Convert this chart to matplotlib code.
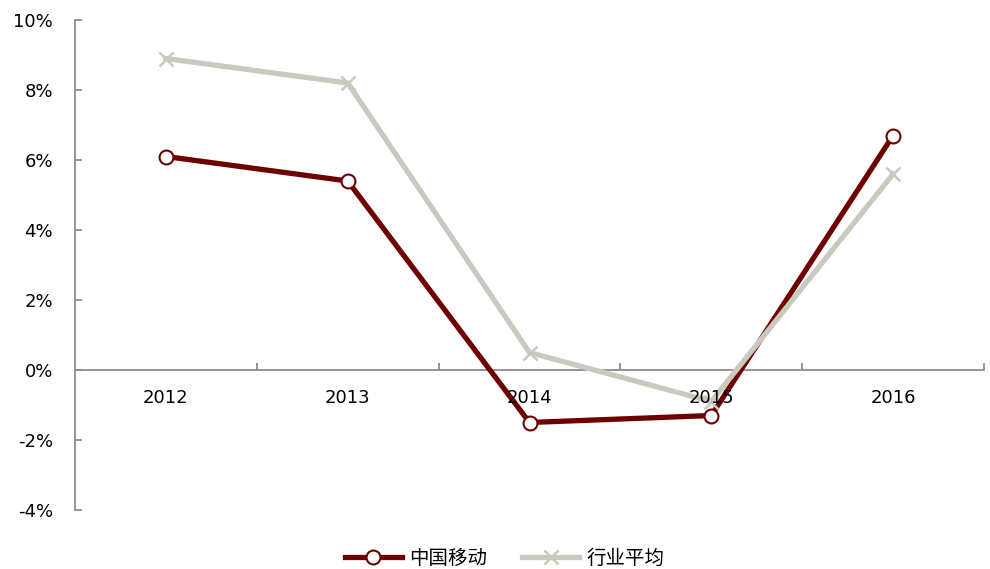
import matplotlib
matplotlib.use("Agg")
import matplotlib.pyplot as plt
from matplotlib.ticker import FuncFormatter, FixedLocator
import matplotlib.transforms as mtransforms

years = ["2012", "2013", "2014", "2015", "2016"]
cmcc = [6.1, 5.4, -1.5, -1.3, 6.7]
industry = [8.9, 8.2, 0.5, -0.9, 5.6]
names = ["中国移动", "行业平均"]

plt.rcParams['font.family'] = ['DejaVu Sans', 'Noto Sans CJK SC']

fig = plt.figure(figsize=(9.9, 5.69), dpi=100)
ax = fig.add_axes([75/990, 1-510/569, (984-75)/990, (510-20)/569])

x = list(range(len(years)))
red = "#6E0000"
gray = "#C9C9BF"
ax.plot(x, cmcc, color=red, lw=3.8, marker='o', ms=10, mfc='white', mec=red, mew=1.5,
        label=names[0], zorder=3)
ax.plot(x, industry, color=gray, lw=3.8, marker='x', ms=10, mec=gray, mew=1.8,
        label=names[1], zorder=4)

ax.set_xlim(-0.5, 4.5)
ax.set_ylim(-4, 10)
ax.set_yticks([-4, -2, 0, 2, 4, 6, 8, 10])
ax.yaxis.set_major_formatter(FuncFormatter(lambda v, p: f"{v:.0f}%"))

for s in ['top', 'right']:
    ax.spines[s].set_visible(False)
ax.spines['bottom'].set_position(('data', 0))
axcol = "#8C8C8C"
ax.spines['bottom'].set_color(axcol)
ax.spines['left'].set_color(axcol)
ax.spines['bottom'].set_linewidth(1.3)
ax.spines['left'].set_linewidth(1.3)

ax.set_xticks(x)
ax.set_xticklabels([])
ax.tick_params(axis='x', length=0)
ax.xaxis.set_minor_locator(FixedLocator([0.5, 1.5, 2.5, 3.5, 4.5]))
ax.tick_params(axis='x', which='minor', direction='in', length=5, color=axcol, width=1.3)
ax.tick_params(axis='y', direction='in', length=5, color=axcol, width=1.3, pad=16, labelsize=13)

off = mtransforms.offset_copy(ax.transData, fig=fig, x=0, y=-28, units='dots')
for xi, yr in zip(x, years):
    ax.text(xi, 0, yr, transform=off, ha='center', va='center', fontsize=13, zorder=10)

leg = fig.legend(loc='lower center', bbox_to_anchor=(0.51, -0.03), ncol=2, frameon=False,
                 prop={'family': ['Noto Sans CJK SC'], 'size': 14}, handlelength=2.9,
                 columnspacing=1.8, handletextpad=0.4)

fig.savefig("out.png", dpi=100)
